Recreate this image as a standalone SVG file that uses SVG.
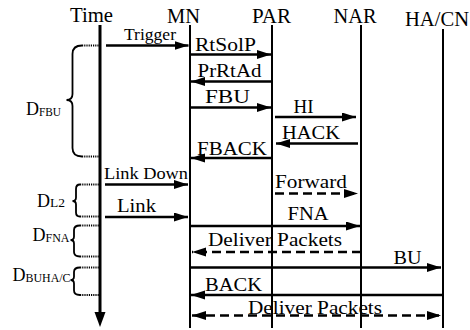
<svg xmlns="http://www.w3.org/2000/svg" width="470" height="330" viewBox="0 0 470 330" font-family="'Liberation Serif', 'DejaVu Serif', 'Times New Roman', serif">
<style>
text, tspan{font-family:'Liberation Serif','DejaVu Serif','Times New Roman',serif;fill:#000}
.h{font-size:20px}
.m{font-size:19px}
.sm{font-size:17px}
.d{font-size:18px}
.s{font-size:12px}
.life{stroke:#000;stroke-width:2;fill:none}
.msg{stroke:#000;stroke-width:2.4;fill:none}
.dash{stroke-dasharray:9 5}
.dot{stroke:#000;stroke-width:2;stroke-dasharray:1.2 1;fill:none}
.brace{stroke:#000;stroke-width:1.8;fill:none}
</style>
<defs>
<marker id="ah" markerUnits="userSpaceOnUse" markerWidth="15" markerHeight="10" refX="14" refY="4.5" orient="auto">
<path d="M0,0 L14,4.5 L0,9 z" fill="#000"/>
</marker>
<marker id="as" markerUnits="userSpaceOnUse" markerWidth="15" markerHeight="10" refX="0" refY="4.5" orient="auto">
<path d="M14,0 L0,4.5 L14,9 z" fill="#000"/>
</marker>
</defs>
<rect width="470" height="330" fill="#fff"/>

<g id="time">
<line x1="100" y1="25" x2="100" y2="314" stroke="#000" stroke-width="3"/>
<path d="M94.5,312 L105.5,312 L100,327 z" fill="#000"/>
<text class="h" x="70" y="22" textLength="43" lengthAdjust="spacingAndGlyphs">Time</text>
</g>
<g id="mn">
<line class="life" x1="190" y1="25" x2="190" y2="328"/>
<text class="h" x="167" y="22.5" textLength="33" lengthAdjust="spacingAndGlyphs">MN</text>
</g>
<g id="par">
<line class="life" x1="272" y1="25" x2="272" y2="328"/>
<text class="h" x="252" y="22.5" textLength="39" lengthAdjust="spacingAndGlyphs">PAR</text>
</g>
<g id="nar">
<line class="life" x1="361" y1="25" x2="361" y2="328"/>
<text class="h" x="333.5" y="22.5" textLength="43" lengthAdjust="spacingAndGlyphs">NAR</text>
</g>
<g id="hacn">
<line class="life" x1="443" y1="29" x2="443" y2="328"/>
<text class="h" x="405" y="25.5" textLength="64" lengthAdjust="spacingAndGlyphs">HA/CN</text>
</g>

<g id="delays">
<g id="d-fbu">
<path class="brace" d="M82,45.5 Q72.5,45.5 72.5,54 L72.5,94 Q72.5,100 66.5,100 Q72.5,100 72.5,106 L72.5,148 Q72.5,156.5 82,156.5"/>
<line class="dot" x1="82" y1="45.5" x2="99" y2="45.5"/>
<line class="dot" x1="82" y1="156.5" x2="99" y2="156.5"/>
<text class="d" x="26" y="115">D<tspan class="s" y="116" textLength="22" lengthAdjust="spacingAndGlyphs">FBU</tspan></text>
</g>
<g id="d-l2">
<path class="brace" d="M80,184.5 Q76,184.5 76,189 L76,197.5 Q76,201 72.5,201 Q76,201 76,204.5 L76,212.5 Q76,216.5 80,216.5"/>
<line class="dot" x1="80" y1="184.5" x2="99" y2="184.5"/>
<line class="dot" x1="80" y1="216.5" x2="99" y2="216.5"/>
<text class="d" x="37" y="206.5">D<tspan class="s" y="207" textLength="15" lengthAdjust="spacingAndGlyphs">L2</tspan></text>
</g>
<g id="d-fna">
<path class="brace" d="M80,225.5 Q74,225.5 74,230 L74,236.5 Q74,240 70.5,240 Q74,240 74,243.5 L74,252 Q74,256.5 80,256.5"/>
<line class="dot" x1="80" y1="225.5" x2="99" y2="225.5"/>
<line class="dot" x1="80" y1="256.5" x2="99" y2="256.5"/>
<text class="d" x="32.5" y="240.5">D<tspan class="s" y="241.5" textLength="24" lengthAdjust="spacingAndGlyphs">FNA</tspan></text>
</g>
<g id="d-buhac">
<path class="brace" d="M80,267.5 Q74,267.5 74,272 L74,276.5 Q74,280 70.5,280 Q74,280 74,283.5 L74,290.5 Q74,295 80,295"/>
<line class="dot" x1="80" y1="267.5" x2="99" y2="267.5"/>
<line class="dot" x1="80" y1="295" x2="99" y2="295"/>
<text class="d" x="12.5" y="281">D<tspan class="s" y="282" textLength="45" lengthAdjust="spacingAndGlyphs">BUHA/C</tspan></text>
</g>
</g>

<g id="connectors">
<line class="msg" x1="106" y1="45.5" x2="188.5" y2="45.5" marker-end="url(#ah)"/>
<line class="msg" x1="190" y1="54.5" x2="271" y2="54.5" marker-end="url(#ah)"/>
<line class="msg" x1="272" y1="81.5" x2="191" y2="81.5" marker-end="url(#ah)"/>
<line class="msg" x1="190" y1="107.5" x2="271" y2="107.5" marker-end="url(#ah)"/>
<line class="msg" x1="275" y1="117" x2="356" y2="117" marker-end="url(#ah)"/>
<line class="msg" x1="358" y1="143.5" x2="276" y2="143.5" marker-end="url(#ah)"/>
<line class="msg" x1="272" y1="158" x2="191" y2="158" marker-end="url(#ah)"/>
<line class="msg" x1="105" y1="184.5" x2="188" y2="184.5" marker-end="url(#ah)"/>
<line class="msg dash" x1="275" y1="193.5" x2="358" y2="193.5" marker-end="url(#ah)"/>
<line class="msg" x1="105" y1="217" x2="188" y2="217" marker-end="url(#ah)"/>
<line class="msg" x1="190" y1="226" x2="360" y2="226" marker-end="url(#ah)"/>
<line class="msg dash" x1="361" y1="252" x2="192" y2="252" marker-end="url(#ah)"/>
<line class="msg" x1="190" y1="267.5" x2="441" y2="267.5" marker-end="url(#ah)"/>
<line class="msg" x1="443" y1="295" x2="191" y2="295" marker-end="url(#ah)"/>
<line class="msg dash" x1="192" y1="315.5" x2="441" y2="315.5" marker-start="url(#as)" marker-end="url(#ah)"/>
</g>

<g id="labels">
<text class="sm" x="124" y="40" textLength="52" lengthAdjust="spacingAndGlyphs">Trigger</text>
<text class="m" x="195" y="51" textLength="61" lengthAdjust="spacingAndGlyphs">RtSolP</text>
<text class="m" x="197.5" y="77" textLength="64" lengthAdjust="spacingAndGlyphs">PrRtAd</text>
<text class="m" x="205" y="102.5" textLength="45" lengthAdjust="spacingAndGlyphs">FBU</text>
<text class="m" x="293.5" y="112.5" textLength="20" lengthAdjust="spacingAndGlyphs">HI</text>
<text class="m" x="282" y="138.5" textLength="58" lengthAdjust="spacingAndGlyphs">HACK</text>
<text class="m" x="197" y="155" textLength="70" lengthAdjust="spacingAndGlyphs">FBACK</text>
<text class="sm" x="104" y="179" textLength="84" lengthAdjust="spacingAndGlyphs">Link Down</text>
<text class="m" x="275" y="188" textLength="72" lengthAdjust="spacingAndGlyphs">Forward</text>
<text class="m" x="117" y="211.5" textLength="39" lengthAdjust="spacingAndGlyphs">Link</text>
<text class="m" x="287.5" y="219.5" textLength="41" lengthAdjust="spacingAndGlyphs">FNA</text>
<text class="m" x="208" y="246" textLength="134" lengthAdjust="spacingAndGlyphs">Deliver Packets</text>
<text class="m" x="393.5" y="263.5" textLength="28" lengthAdjust="spacingAndGlyphs">BU</text>
<text class="m" x="205" y="291" textLength="57" lengthAdjust="spacingAndGlyphs">BACK</text>
<text class="m" x="248" y="314" textLength="134" lengthAdjust="spacingAndGlyphs">Deliver Packets</text>
</g>
</svg>
